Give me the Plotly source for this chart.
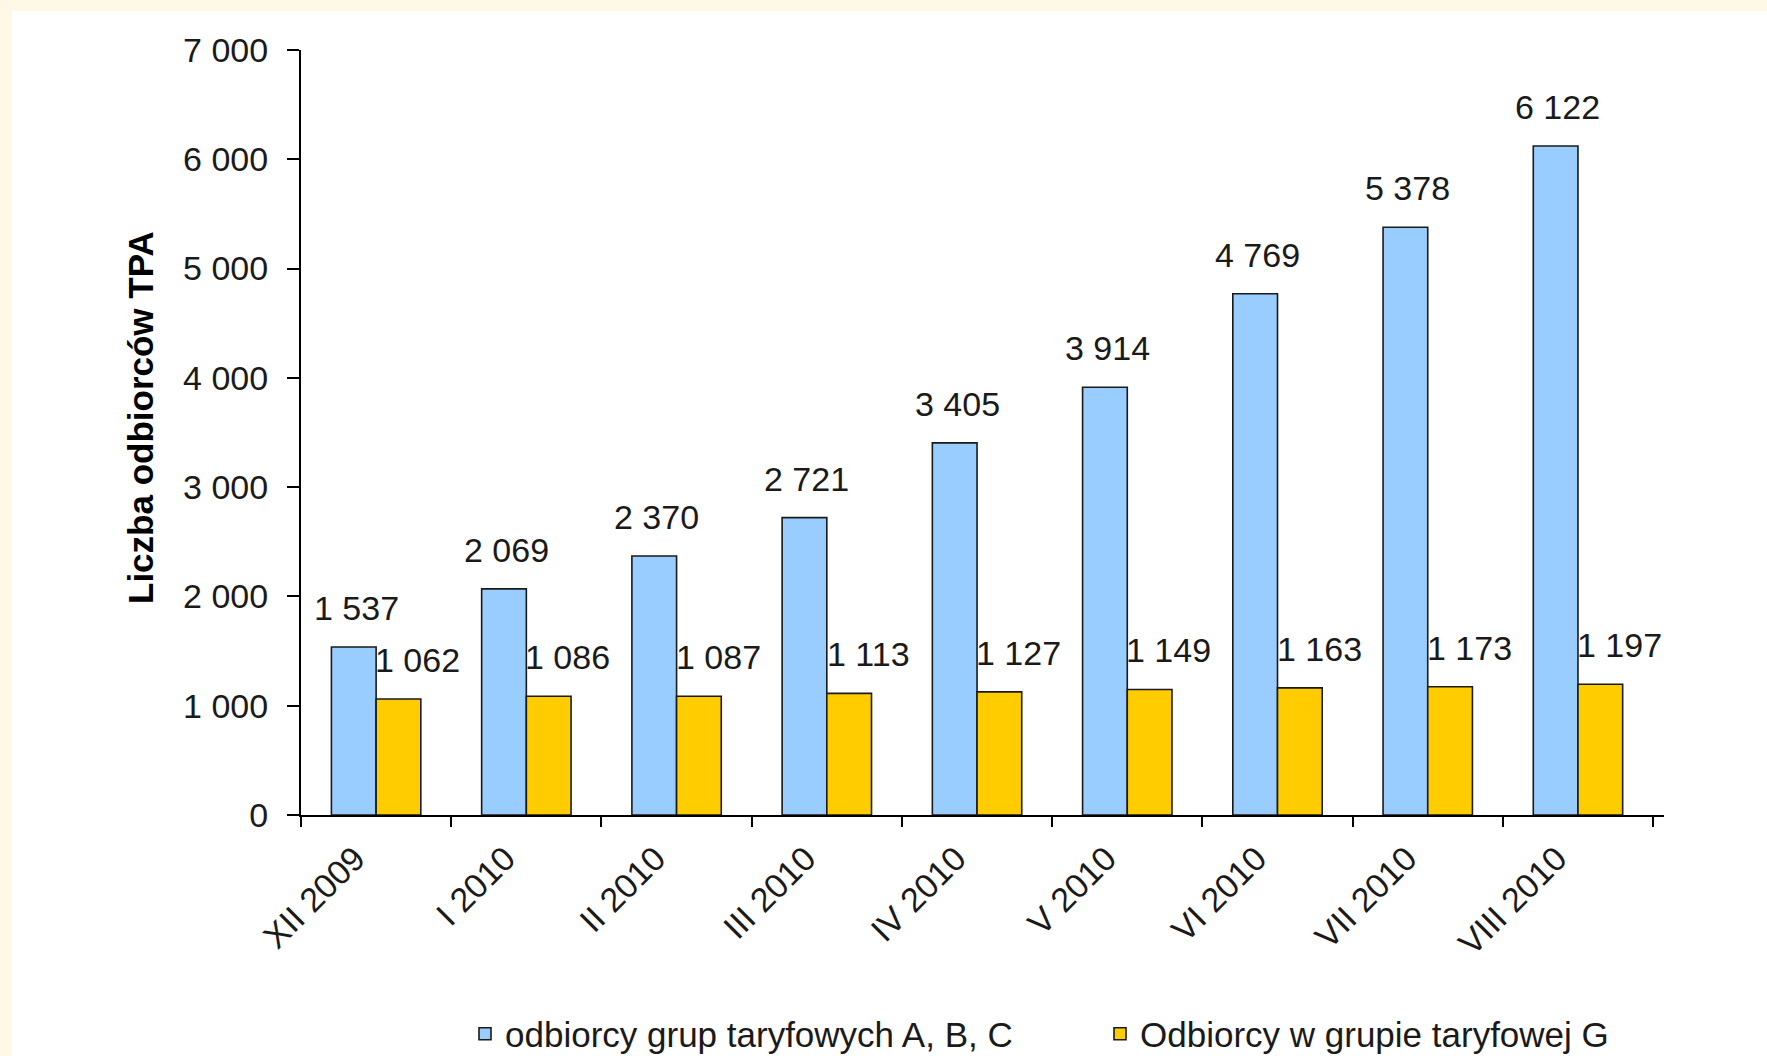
import plotly.graph_objects as go

categories = ["XII 2009", "I 2010", "II 2010", "III 2010", "IV 2010",
              "V 2010", "VI 2010", "VII 2010", "VIII 2010"]
abc_values = [1537, 2069, 2370, 2721, 3405, 3914, 4769, 5378, 6122]
g_values = [1062, 1086, 1087, 1113, 1127, 1149, 1163, 1173, 1197]
y_tickvals = [0, 1000, 2000, 3000, 4000, 5000, 6000, 7000]
y_ticktext = ["0", "1 000", "2 000", "3 000", "4 000", "5 000", "6 000", "7 000"]
series_names = ["odbiorcy grup taryfowych A, B, C", "Odbiorcy w grupie taryfowej G"]
y_title = "Liczba odbiorców TPA"

W, H = 1767, 1056
ML, MR, MT, MB = 301, 103, 50, 241
plot_w = W - ML - MR
plot_h = H - MT - MB
BARGAP = 0.405
cat_w = plot_w / len(categories)
bar_w = cat_w * (1 - BARGAP) / 2

FONT = "Liberation Sans, Arial, sans-serif"
TXT = "#1a1a1a"
BLUE = "#99CCFF"
YELLOW = "#FFCC00"
CREAM = "#FFF8E7"


def fmt(v):
    return f"{v:,}".replace(",", " ")


fig = go.Figure()
fig.add_trace(go.Bar(x=categories, y=abc_values, name=series_names[0],
                     marker=dict(color=BLUE, line=dict(color="#1a1a1a", width=1.6))))
fig.add_trace(go.Bar(x=categories, y=g_values, name=series_names[1],
                     marker=dict(color=YELLOW, line=dict(color="#1a1a1a", width=1.6))))

annotations = []
for c, v in zip(categories, abc_values):
    annotations.append(dict(x=c, y=v, xref="x", yref="y", text=fmt(v), showarrow=False,
                            xshift=-bar_w / 2 + 2.5, yshift=39, yanchor="middle",
                            font=dict(family=FONT, size=34, color=TXT)))
for c, v in zip(categories, g_values):
    annotations.append(dict(x=c, y=v, xref="x", yref="y", text=fmt(v), showarrow=False,
                            xshift=bar_w / 2 + 19, yshift=39, yanchor="middle",
                            font=dict(family=FONT, size=34, color=TXT)))

# y-axis title
annotations.append(dict(x=(141 - ML) / plot_w, y=(H - MB - 418) / plot_h,
                        xref="paper", yref="paper", text="<b>" + y_title + "</b>",
                        textangle=-90, showarrow=False, xanchor="center", yanchor="middle",
                        font=dict(family=FONT, size=35, color="#000000")))

shapes = [
    dict(type="rect", xref="paper", yref="paper", layer="below",
         x0=-ML / plot_w, x1=(12 - ML) / plot_w, y0=-MB / plot_h, y1=(H - MB) / plot_h,
         fillcolor=CREAM, line=dict(width=0)),
    dict(type="rect", xref="paper", yref="paper", layer="below",
         x0=-ML / plot_w, x1=(W - ML) / plot_w, y0=(H - MB - 11) / plot_h, y1=(H - MB) / plot_h,
         fillcolor=CREAM, line=dict(width=0)),
]

fig.update_layout(
    width=W, height=H,
    margin=dict(l=ML, r=MR, t=MT, b=MB, autoexpand=False),
    paper_bgcolor="white", plot_bgcolor="white",
    barmode="group", bargap=BARGAP, bargroupgap=0,
    font=dict(family=FONT, size=34, color=TXT),
    showlegend=True,
    legend=dict(orientation="h", x=(465 - ML) / plot_w, y=(H - MB - 1034) / plot_h,
                xanchor="left", yanchor="middle", font=dict(family=FONT, size=35, color=TXT),
                entrywidth=590, entrywidthmode="pixels", bgcolor="rgba(0,0,0,0)",
                itemclick=False),
    annotations=annotations,
    shapes=shapes,
)
fig.update_xaxes(type="category", showline=True, linecolor="#000000", linewidth=2,
                 ticks="outside", tickson="boundaries", ticklen=10, tickwidth=2,
                 tickcolor="#000000", tickangle=-45, showgrid=False, zeroline=False,
                 tickfont=dict(family=FONT, size=34, color=TXT), ticklabelstandoff=8,
                 ticklabelshift=-21)
fig.update_yaxes(range=[0, 7000], showline=True, linecolor="#000000", linewidth=2,
                 ticks="outside", ticklen=12, tickwidth=2, tickcolor="#000000",
                 tickvals=y_tickvals, ticktext=y_ticktext, showgrid=False, zeroline=False,
                 tickfont=dict(family=FONT, size=34, color=TXT), ticklabelstandoff=12)

fig.write_html("out.html", config={"displayModeBar": False},
               post_script="document.body.style.margin='0';document.body.style.overflow='hidden';")
